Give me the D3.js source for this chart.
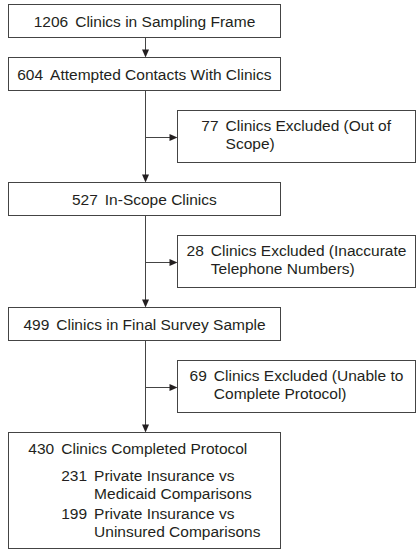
<!DOCTYPE html>
<html>
<head>
<meta charset="utf-8">
<script src="https://cdn.jsdelivr.net/npm/d3@7"></script>
<style>
  html, body { margin: 0; padding: 0; background: #fff; }
  svg { display: block; }
  text { font-family: "Liberation Sans", Arial, Helvetica, sans-serif; font-size: 15.5px; fill: #231f20; }
</style>
</head>
<body>
<script>
// ---- data ----
const mainCounts = [1206, 604, 527, 499, 430];
const mainLabels = [
  "Clinics in Sampling Frame",
  "Attempted Contacts With Clinics",
  "In-Scope Clinics",
  "Clinics in Final Survey Sample",
  "Clinics Completed Protocol"
];
const excludedCounts = [77, 28, 69];
const excludedLabels = [
  ["Clinics Excluded (Out of", "Scope)"],
  ["Clinics Excluded (Inaccurate", "Telephone Numbers)"],
  ["Clinics Excluded (Unable to", "Complete Protocol)"]
];
const subCounts = [231, 199];
const subLabels = [
  ["Private Insurance vs", "Medicaid Comparisons"],
  ["Private Insurance vs", "Uninsured Comparisons"]
];
// excluded box i sits after main box (i + 1)
const excludedAfter = [1, 2, 3];

// ---- layout ----
const W = 416, H = 550;
const x = d3.scaleLinear().domain([0, 1]).range([8.5, 415.5]);
const mainX0 = x(0), mainX1 = 280.5, mainCx = Math.round((mainX0 + mainX1) / 2) + 0.5;
const sideX0 = 177.5, sideX1 = x(1);
const mainH = 33, sideH = 52, lastH = 116, gap = 20;
const gapNum = 7;   // space between count and label
const lineH = 18;
const stroke = "#444";

const svg = d3.select("body").append("svg").attr("width", W).attr("height", H);

// compute vertical sequence
const nodes = [];
let yCur = 4.5;
mainCounts.forEach((c, i) => {
  const h = i === mainCounts.length - 1 ? lastH : mainH;
  nodes.push({ type: "main", i, y0: yCur, y1: yCur + h });
  yCur += h + gap;
  const ex = excludedAfter.indexOf(i);
  if (ex >= 0) {
    nodes.push({ type: "side", i: ex, y0: yCur, y1: yCur + sideH });
    yCur += sideH + gap;
  }
});
const mains = nodes.filter(n => n.type === "main");
const sides = nodes.filter(n => n.type === "side");

// measuring helper
const measurer = svg.append("text").attr("x", -1000).attr("y", -1000);
function tw(s) { measurer.text(s); return measurer.node().getComputedTextLength(); }

// connectors
const conn = svg.append("g").attr("stroke", stroke).attr("stroke-width", 1).attr("fill", "none");
const heads = svg.append("g").attr("fill", "#231f20");
const AL = 8, AW = 3.5;
function arrowDown(xp, yTip) {
  heads.append("path").attr("d", `M${xp},${yTip} L${xp - AW},${yTip - AL} L${xp + AW},${yTip - AL} Z`);
}
function arrowRight(xTip, yp) {
  heads.append("path").attr("d", `M${xTip},${yp} L${xTip - AL},${yp - AW} L${xTip - AL},${yp + AW} Z`);
}
for (let k = 0; k < mains.length - 1; k++) {
  const a = mains[k], b = mains[k + 1];
  conn.append("line").attr("x1", mainCx).attr("x2", mainCx).attr("y1", a.y1).attr("y2", b.y0 - 2);
  arrowDown(mainCx, b.y0);
}
sides.forEach(s => {
  const ym = Math.round((s.y0 + s.y1) / 2) + 0.5;
  conn.append("line").attr("x1", mainCx).attr("x2", sideX0 - 2).attr("y1", ym).attr("y2", ym);
  arrowRight(sideX0, ym);
});

// boxes
const boxes = svg.append("g").attr("stroke", stroke).attr("stroke-width", 1).attr("fill", "#fff");
mains.forEach(n => boxes.append("rect").attr("x", mainX0).attr("y", n.y0).attr("width", mainX1 - mainX0).attr("height", n.y1 - n.y0));
sides.forEach(n => boxes.append("rect").attr("x", sideX0).attr("y", n.y0).attr("width", sideX1 - sideX0).attr("height", n.y1 - n.y0));

const txt = svg.append("g");

// main boxes text (single lines, except last)
mains.forEach((n, i) => {
  const g = txt.append("g");
  const cw = tw(String(mainCounts[i]));
  if (i < mains.length - 1) {
    const yb = (n.y0 + n.y1) / 2 + 5.5;
    g.append("text").attr("x", 0).attr("y", yb).text(mainCounts[i]);
    g.append("text").attr("x", cw + gapNum).attr("y", yb).text(mainLabels[i]);
  } else {
    let yb = n.y0 + 21.5;
    g.append("text").attr("x", 0).attr("y", yb).text(mainCounts[i]);
    const lx = cw + gapNum;
    g.append("text").attr("x", lx).attr("y", yb).text(mainLabels[i]);
    yb += 27;
    subCounts.forEach((sc, j) => {
      const scw = tw(String(sc));
      g.append("text").attr("x", lx).attr("y", yb).text(sc);
      subLabels[j].forEach((ln, k) => {
        g.append("text").attr("x", lx + scw + gapNum).attr("y", yb + k * lineH).text(ln);
      });
      yb += lineH + 20;
    });
  }
  const bb = g.node().getBBox();
  g.attr("transform", `translate(${(mainX0 + mainX1) / 2 - bb.width / 2},0)`);
});

// side boxes text
sides.forEach((n, i) => {
  const g = txt.append("g");
  const cw = tw(String(excludedCounts[i]));
  const yb = (n.y0 + n.y1) / 2 - lineH / 2 + 5.5 - 2;
  g.append("text").attr("x", 0).attr("y", yb).text(excludedCounts[i]);
  excludedLabels[i].forEach((ln, k) => {
    g.append("text").attr("x", cw + gapNum).attr("y", yb + k * lineH).text(ln);
  });
  const bb = g.node().getBBox();
  g.attr("transform", `translate(${(sideX0 + sideX1) / 2 - bb.width / 2},0)`);
});
measurer.remove();
</script>
</body>
</html>
